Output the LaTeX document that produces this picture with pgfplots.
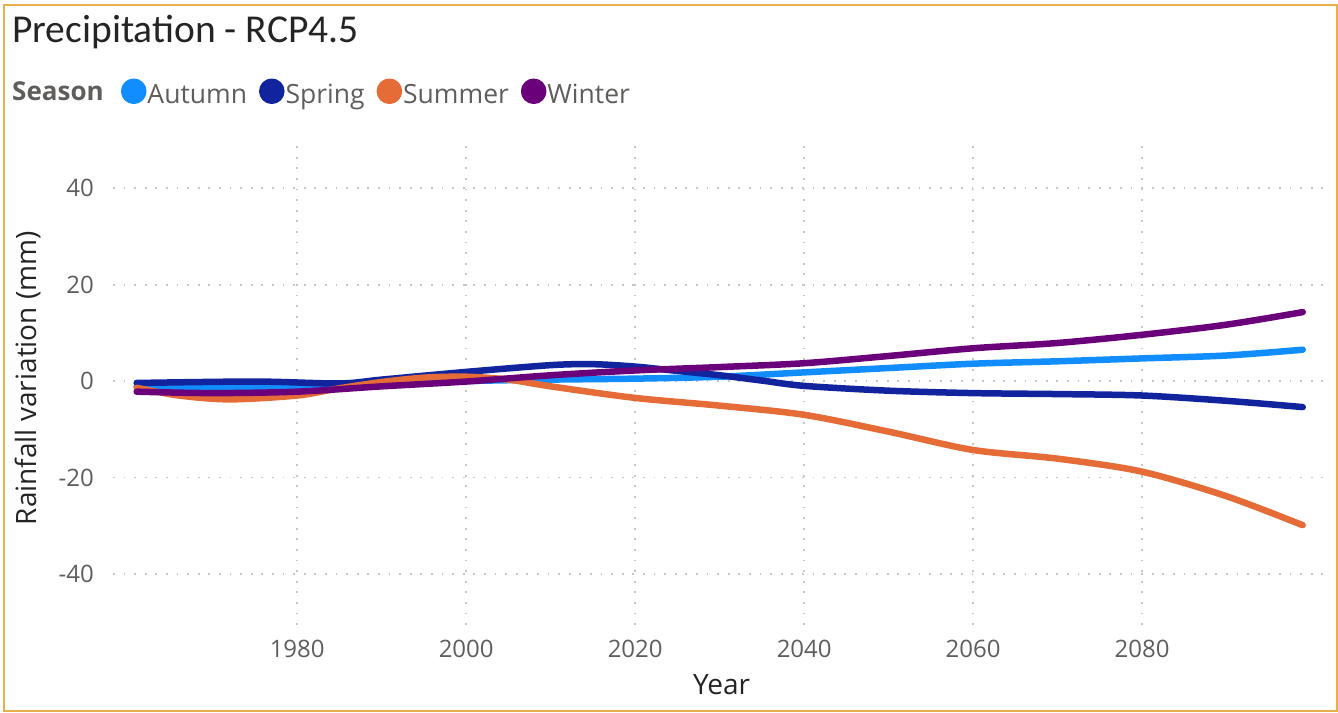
\documentclass[border=0pt]{standalone}
\usepackage{fontspec}
\setmainfont{Open Sans}
\newfontfamily\titlefont{Carlito}
\usepackage{pgfplots}
\pgfplotsset{compat=1.18}
\definecolor{autumn}{HTML}{118DFF}
\definecolor{spring}{HTML}{12239E}
\definecolor{summer}{HTML}{E66C37}
\definecolor{winter}{HTML}{6B007B}
\definecolor{textgray}{HTML}{605E5C}
\definecolor{textdark}{HTML}{252423}
\definecolor{gridcol}{HTML}{C8C6C4}
\definecolor{framecol}{HTML}{E8B04A}
\begin{document}
\begin{tikzpicture}
\path[use as bounding box] (0pt,0pt) rectangle (1338pt,712pt);
\draw[framecol, line width=2pt] (4pt,1.5pt) rectangle (1336.5pt,707pt);
\node[anchor=base west, inner sep=0pt, text=textdark, font=\titlefont\fontsize{39.5}{44}\selectfont] at (12pt,669pt) {Precipitation - RCP4.5};
\node[anchor=base west, inner sep=0pt, text=textgray, font=\bfseries\fontsize{26}{30}\selectfont] at (12pt,611pt) {Season};
\begin{axis}[
  at={(113pt,87pt)}, anchor=south west,
  scale only axis, width=1210pt, height=485pt,
  xmin=1958.2, xmax=2101.4, ymin=-50.6, ymax=50,
  xtick={1980,2000,2020,2040,2060,2080},
  ytick={-40,-20,0,20,40},
  axis line style={draw=none},
  major tick length=0pt,
  grid=major,
  major grid style={color=gridcol, line width=1.8pt, dash pattern=on 1.8pt off 8.8pt},
  /pgf/number format/assume math mode=true,
  /pgf/number format/1000 sep={},
  tick label style={font=\fontsize{24}{28}\selectfont, text=textgray},
  xticklabel style={anchor=base, inner sep=0pt, yshift=-32pt},
  yticklabel style={anchor=east, inner sep=0pt, xshift=-19pt},
  xlabel={Year},
  ylabel={Rainfall variation (mm)},
  every axis x label/.style={at={(axis description cs:0.503,-0.1443)}, anchor=base, font=\fontsize{28}{32}\selectfont, text=textdark},
  every axis y label/.style={at={(axis description cs:-0.0636,0.509)}, rotate=90, anchor=base, font=\fontsize{28}{32}\selectfont, text=textdark},
  legend columns=-1,
  legend image code/.code={\fill (9.5pt,2.3pt) circle (9.5pt);},
  legend style={at={(axis description cs:0.0066,1.0742)}, anchor=south west, draw=none, fill=none,
    inner sep=0pt, outer sep=0pt, font=\fontsize{26.5}{30}\selectfont, text=textgray,
    nodes={inner sep=0pt, text depth=0pt},
    /tikz/every odd column/.append style={column sep=1pt},
    /tikz/every even column/.append style={column sep=12pt}},
  every axis plot/.append style={line width=6.5pt, smooth, line cap=round, line join=round},
]
\addplot[autumn] coordinates {(1961,-1.1) (1970,-1.2) (1980,-1.1) (1990,-0.6) (2000,0.0) (2010,0.3) (2020,0.5) (2030,0.9) (2040,1.8) (2050,2.7) (2060,3.6) (2070,4.1) (2080,4.7) (2090,5.3) (2099,6.5)};
\addplot[spring] coordinates {(1961,-0.4) (1975,-0.1) (1985,-0.5) (1990,0.3) (2000,1.9) (2010,3.3) (2015,3.5) (2020,3.0) (2025,2.1) (2030,1.2) (2035,0.1) (2040,-1.0) (2050,-2.0) (2060,-2.5) (2070,-2.7) (2080,-3.0) (2090,-4.1) (2099,-5.4)};
\addplot[summer] coordinates {(1961,-1.4) (1966,-3.0) (1972,-3.8) (1980,-3.0) (1985,-1.5) (1990,-0.2) (1995,0.7) (2000,0.9) (2005,0.3) (2010,-1.1) (2020,-3.5) (2030,-5.1) (2040,-7.0) (2050,-10.5) (2060,-14.3) (2070,-16.1) (2080,-18.8) (2090,-23.9) (2099,-29.9)};
\addplot[winter] coordinates {(1961,-2.2) (1970,-2.5) (1980,-2.2) (1990,-1.1) (2000,-0.1) (2010,1.2) (2020,2.2) (2030,2.9) (2040,3.7) (2050,5.2) (2060,6.8) (2070,7.9) (2080,9.6) (2090,11.7) (2099,14.3)};
\legend{Autumn,Spring,Summer,Winter}
\end{axis}
\end{tikzpicture}
\end{document}
